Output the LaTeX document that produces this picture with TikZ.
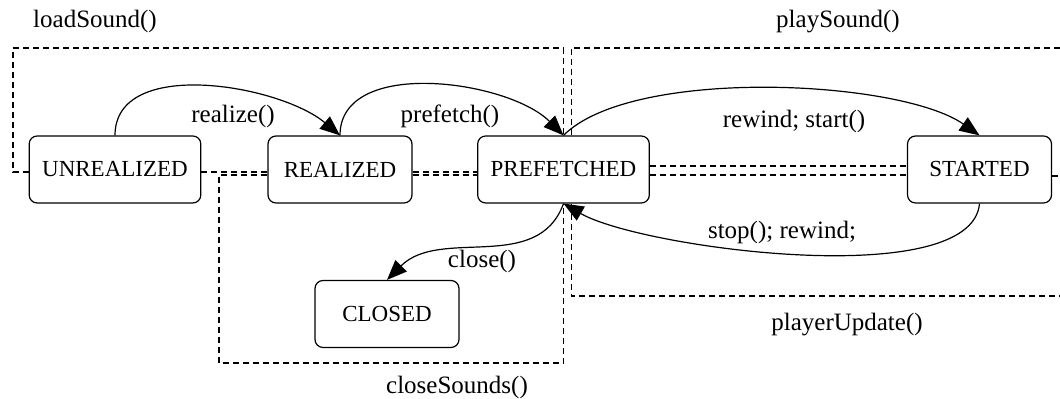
\documentclass[tikz,border=0pt]{standalone}
\usepackage{fontspec}
\setmainfont{Liberation Serif}
\usetikzlibrary{arrows.meta}

\begin{document}
\begin{tikzpicture}[x=0.5pt,y=0.5pt,
  state/.style={draw,rounded corners=4pt,line width=0.6pt,minimum width=72pt,minimum height=33.5pt,inner xsep=6.5pt,font=\fontsize{11.5}{14}\selectfont},
  lbl/.style={inner sep=0pt,font=\fontsize{12.5}{15}\selectfont},
  region/.style={line width=0.6pt,dash pattern=on 3pt off 2pt},
  trans/.style={line width=0.6pt,-{Triangle[length=10pt,width=8pt]}}]
\useasboundingbox (0,0) rectangle (1060,399);
% states
\node[state] (UNREAL) at (115,229.5) {UNREALIZED};
\node[state] (REAL) at (340,229.5) {REALIZED};
\node[state] (PREF) at (563.5,229.5) {PREFETCHED};
\node[state] (START) at (979.5,229.5) {STARTED};
\node[state] (CLOSED) at (387,85) {CLOSED};
% method regions
\draw[region] ([yshift=-1.25pt]UNREAL.west) -| (13,351) -| (PREF.north);
\draw[region] ([yshift=-1.25pt]UNREAL.east) -- ([yshift=-1.25pt]REAL.west);
\draw[region] ([yshift=-1.25pt]REAL.east) -- ([yshift=-1.25pt]PREF.west);
\draw[region] ([yshift=-2.75pt]REAL.west) -| (219,36) -| (PREF.south);
\draw[region] ([yshift=-2.75pt]REAL.east) -- ([yshift=-2.75pt]PREF.west);
\draw[region] ([xshift=4pt]PREF.north) |- (1060,351);
\draw[region] ([yshift=1.75pt]PREF.east) -- ([yshift=1.75pt]START.west);
\draw[region] ([yshift=-3.25pt]START.east) -- (1060,223);
\draw[region] ([yshift=-2.75pt]PREF.east) -- ([yshift=-2.75pt]START.west);
\draw[region] ([xshift=4pt]PREF.south) |- (1060,103);
\node[lbl] (load) at (95,377) {loadSound()};
\node[lbl] (play) at (838,377) {playSound()};
\node[lbl] (closeall) at (457,12) {closeSounds()};
\node[lbl] (update) at (847,74) {playerUpdate()};
% transitions
\draw[trans] (UNREAL.north) to[out=90,in=140,looseness=.9] (REAL.north);
\draw[trans] (REAL.north) to[out=90,in=135,looseness=.9] (PREF.north);
\draw[trans] (PREF.north) to[out=45,in=145,looseness=.6] (START.north);
\draw[trans] (START.south) to[out=-95,in=-30,looseness=.55] (PREF.south);
\draw[trans] (PREF.south) to[out=-110,in=45] (CLOSED.north);
\node[lbl] (realize) at (233,282) {realize()};
\node[lbl] (prefetch) at (450,283) {prefetch()};
\node[lbl] (start) at (794,277) {rewind; start()};
\node[lbl] (stop) at (782,167) {stop(); rewind;};
\node[lbl] (close) at (482,138) {close()};
\end{tikzpicture}
\end{document}
